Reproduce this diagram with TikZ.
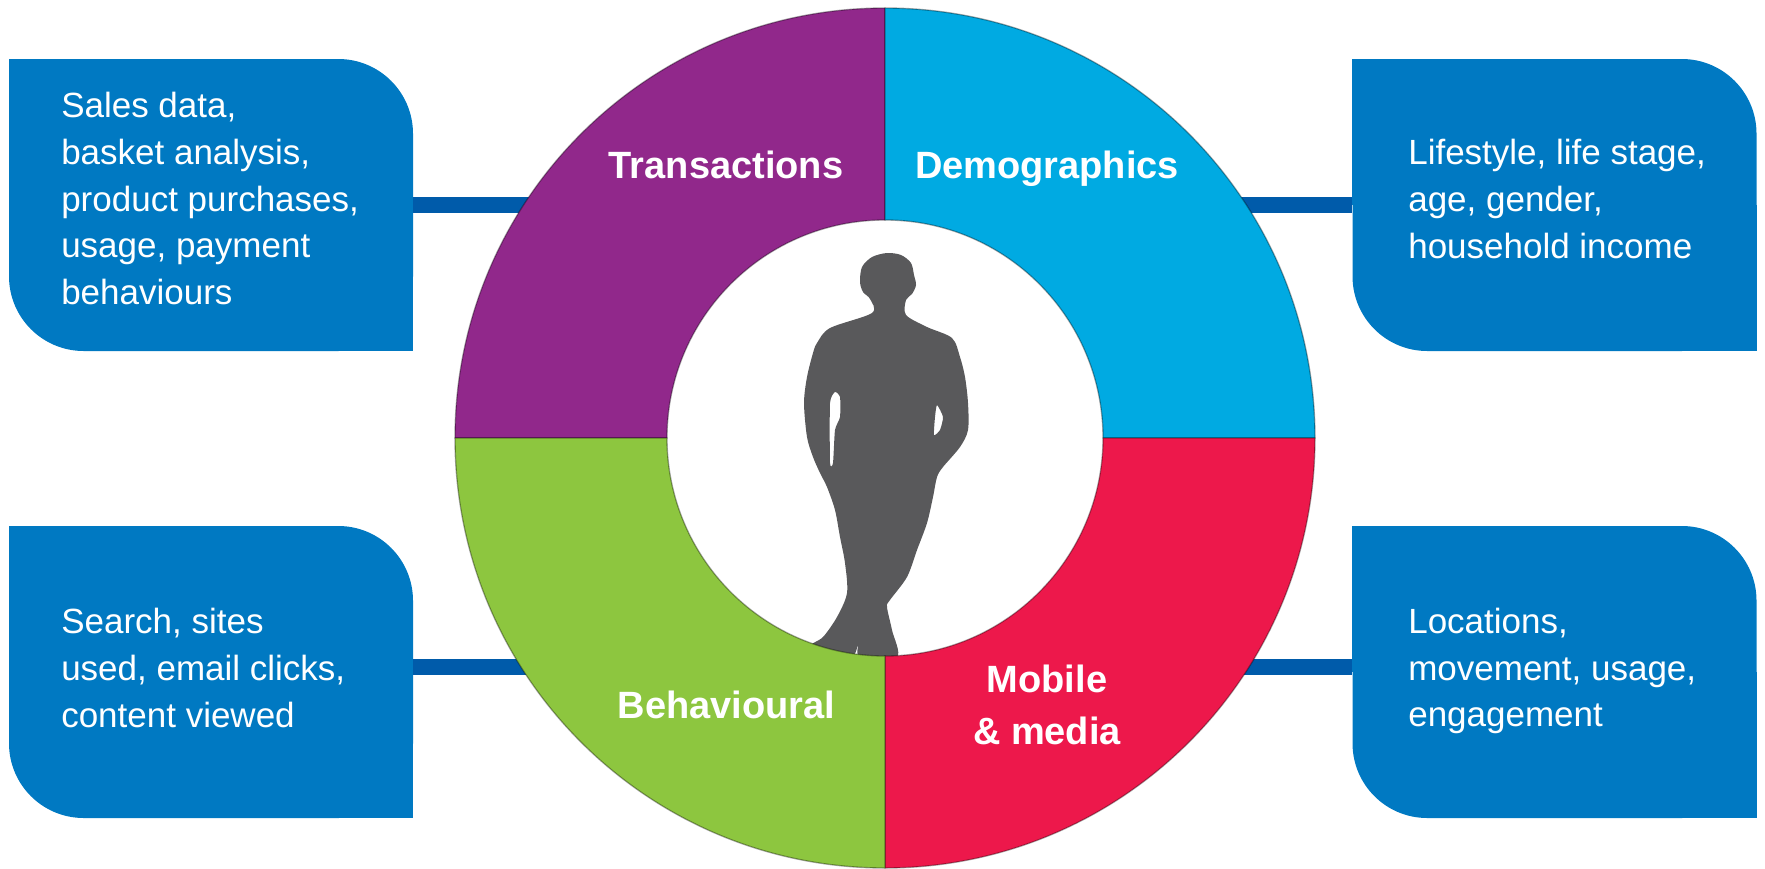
\documentclass[tikz,border=0pt]{standalone}
\usepackage{fontspec}
\setmainfont{Liberation Sans}
\usepackage{tikz}
\usetikzlibrary{calc}
\definecolor{trans}{RGB}{145,40,139}
\definecolor{demo}{RGB}{0,170,226}
\definecolor{behav}{RGB}{141,198,63}
\definecolor{mobile}{RGB}{237,24,75}
\definecolor{boxblue}{RGB}{0,121,194}
\definecolor{lineblue}{RGB}{0,91,170}
\definecolor{person}{RGB}{89,89,91}

\begin{document}
\begin{tikzpicture}[x=0.75pt,y=0.75pt,yscale=-1,xscale=1,
  box/.style={fill=boxblue, rounded corners=56pt, minimum width=303pt, minimum height=219pt, inner sep=0pt},
  boxtext/.style={text=white, align=left, anchor=west, inner sep=0pt, font=\fontsize{26.25pt}{35pt}\selectfont},
  ringlabel/.style={text=white, align=center, anchor=base, inner sep=0pt, font=\fontsize{28.5pt}{39pt}\selectfont\bfseries},
  link/.style={draw=lineblue, line width=12pt},
  seg/.style={draw=black, draw opacity=0.35, line width=1pt}]
                  \useasboundingbox (0,0) rectangle (1765,868);

                  %Shape: Rectangle [boxes]
                  \draw (211,205) node (ltop) [box] {};
                  \draw (1554.5,205) node (rtop) [box] {};
                  \draw (211,672) node (lbot) [box] {};
                  \draw (1554.5,672) node (rbot) [box] {};
                  %square corners
                  \foreach \b in {ltop,rtop,lbot,rbot}{
                    \fill[boxblue] (\b.north west) rectangle (\b.center);
                    \fill[boxblue] (\b.center) rectangle (\b.south east);
                  }

                  %Straight Lines
                  \draw[link] (ltop.east) -- (rtop.west);
                  %Straight Lines
                  \draw[link] ([yshift=-3.75pt]lbot.east) -- ([yshift=-3.75pt]rbot.west);

                  %Shape: Person
                  \fill[person, even odd rule] plot[smooth cycle, tension=0.5] coordinates {
                    (887,253) (901,255) (911,263) (914,275) (916,285) (912,294) (906,300) (906,315)
                    (927,327) (952,338) (960,357) (965,377) (968,403) (968,430) (960,447) (943,467)
                    (937,477) (933,497) (927,523) (917,550) (907,577) (890,600) (887,607) (892,630)
                    (897,657) (860,657) (858,645) (853,655) (830,651) (810,646) (823,637) (837,617)
                    (847,593) (845,563) (840,537) (835,510) (827,487) (820,473) (813,457) (807,437)
                    (804,403) (807,377) (813,353) (817,343) (830,328) (872,313) (870,299) (863,292)
                    (860,282) (862,267) (872,257)}
                    plot[smooth cycle, tension=0.35] coordinates {
                    (835,392) (840,397) (840,417) (835,430) (833,463) (830,463) (830,403)}
                    plot[smooth cycle, tension=0.35] coordinates {
                    (937,405) (943,417) (940,430) (934,435) (935,417)};

                  %Shape: Ring
                  \coordinate (hub) at (885,438);
                  \foreach \a/\c in {180/trans,270/demo,0/mobile,90/behav}
                    \filldraw[fill=\c, seg] ($(hub)+(\a:430)$) arc[start angle=\a, delta angle=90, radius=430]
                      -- ($(hub)+(\a+90:218)$) arc[start angle=\a+90, delta angle=-90, radius=218] -- cycle;

                  % Text Node
                  \draw (726,178) node (translbl) [ringlabel] {Transactions};
                  % Text Node
                  \draw (1047,178) node (demolbl) [ringlabel] {Demographics};
                  % Text Node
                  \draw (726.5,718) node (behavlbl) [ringlabel] {Behavioural};
                  % Text Node
                  \draw (1047,744) node (moblbl) [ringlabel] {Mobile\\\& media};

                  % Text Node
                  \draw (61,198.5) node (ltoptxt) [boxtext] {Sales data,\\basket analysis,\\product purchases,\\usage, payment\\behaviours};
                  % Text Node
                  \draw (1408,199) node (rtoptxt) [boxtext] {Lifestyle, life stage,\\age, gender,\\household income};
                  % Text Node
                  \draw (61,668) node (lbottxt) [boxtext] {Search, sites\\used, email clicks,\\content viewed};
                  % Text Node
                  \draw (1408,671) node (rbottxt) [boxtext] {Locations,\\movement, usage,\\engagement};

              \end{tikzpicture}
\end{document}
